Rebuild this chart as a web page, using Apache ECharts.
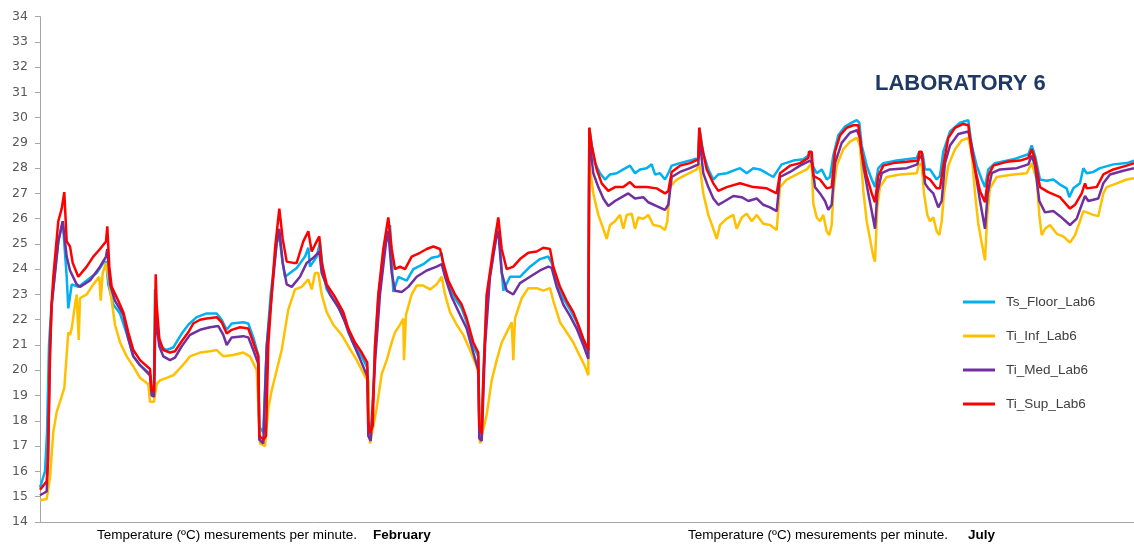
<!DOCTYPE html>
<html>
<head>
<meta charset="utf-8">
<script src="https://cdn.jsdelivr.net/npm/echarts@6/dist/echarts.min.js"></script>
<style>
html,body{margin:0;padding:0;background:#fff;}
#chart{width:1134px;height:544px;}
</style>
</head>
<body>
<div id="chart"></div>
<script>
// Series names
const seriesNames = ['Ts_Floor_Lab6', 'Ti_Inf_Lab6', 'Ti_Med_Lab6', 'Ti_Sup_Lab6'];
// Y axis range / tick step (ºC)
const yMin = 14, yMax = 34, yStep = 1;
// Measurement index range (one unit per sample position)
const tMin = 40, tMax = 1134;

// [measurement index, temperature ºC]
const floorData = [
[40,15.35],[45,16.0],[47,17.5],[49,21.0],[51,22.3],[54,23.5],[58.3,25.1],[62.7,25.9],[66.7,23.7],[68.3,22.45],[71.7,23.4],[78.3,23.3],[86.7,23.55],[96.7,23.85],[103.3,24.25],[106,24.3],[108.3,23.4],[113.3,22.6],[120,22.25],[128.3,21.25],[133.3,20.55],[140,20.2],[150,19.85],[151.7,19.0],[154,19.0],[155,23.2],[157,21.8],[160,20.95],[166.7,20.8],[173.3,20.9],[181.7,21.45],[188.3,21.8],[196.7,22.1],[206.7,22.25],[216.7,22.25],[221.7,22.0],[226.7,21.6],[231.7,21.85],[243.3,21.9],[248.3,21.85],[253.3,21.3],[258.3,20.6],[259.3,17.75],[263.3,17.55],[266.7,20.95],[270.7,23.0],[276.7,25.05],[279.3,25.3],[282.7,24.25],[285,23.7],[290,23.85],[296.7,24.05],[305,24.5],[308.3,24.85],[310,24.1],[316.7,24.5],[320,25.05],[323.3,23.85],[326.7,23.2],[335,22.7],[343.3,22.15],[348.3,21.5],[355,20.95],[361.7,20.55],[367.3,20.1],[369.3,17.8],[371.7,17.6],[375,20.9],[378.3,22.9],[383.3,24.6],[390,25.75],[393.3,23.1],[398.3,23.7],[406.7,23.55],[413.3,24.0],[423.3,24.2],[431.7,24.45],[438.3,24.5],[441.7,24.65],[443.3,24.1],[448.3,23.4],[455,22.85],[461.7,22.45],[466.7,21.9],[473.3,20.95],[478.3,20.55],[479.3,17.7],[481.7,17.6],[483.3,19.8],[486.7,22.9],[493.3,24.6],[498.3,25.75],[503.3,23.15],[510,23.7],[520,23.7],[530,24.1],[540,24.4],[548.3,24.5],[551.7,24.25],[556.7,23.5],[563.3,22.85],[570,22.4],[576.7,21.9],[583.3,21.2],[588.3,20.7],
[589.3,29.6],[591.7,28.9],[595,28.2],[600,27.8],[605,27.55],[610,27.75],[616.7,27.8],[623.3,27.95],[630,28.1],[635,27.8],[640,27.95],[646.7,28.0],[651.7,28.15],[655,27.75],[660,27.8],[665,27.55],[668.3,27.8],[671.7,28.1],[680,28.2],[690,28.3],[698.3,28.4],[699.3,29.6],[703.3,28.6],[708.3,27.95],[713.3,27.55],[718.3,27.75],[726.7,27.8],[733.3,27.9],[740,28.0],[746.7,27.8],[753.3,28.0],[760,27.95],[766.7,27.8],[773.3,27.65],[778.3,27.95],[781.7,28.15],[793.3,28.3],[803.3,28.35],[808.3,28.5],[810,28.65],[812.7,28.1],[816.7,27.8],[821.7,27.95],[826.7,27.55],[830,27.65],[833.3,28.5],[838.3,29.3],[845,29.65],[851.7,29.8],[856.7,29.9],[859.3,29.8],[861.7,28.9],[866.7,28.1],[871.7,27.55],[875,27.25],[878.3,28.0],[883.3,28.2],[896.7,28.3],[916.7,28.4],[919.3,28.65],[922.7,28.55],[925,27.95],[930,27.95],[936.7,27.55],[940,27.7],[943.3,28.65],[950,29.45],[960,29.8],[968.3,29.9],[971.7,28.9],[976.7,28.1],[981.7,27.55],[985,27.25],[988.3,27.95],[995,28.2],[1013.3,28.35],[1028.3,28.55],[1031.7,28.9],[1035,28.5],[1040,27.55],[1046.7,27.5],[1053.3,27.55],[1060,27.35],[1066.7,27.2],[1069.3,26.85],[1073.3,27.2],[1080,27.4],[1083.3,28.0],[1086.7,27.8],[1093.3,27.85],[1100,28.0],[1113.3,28.15],[1126.7,28.2],[1134,28.3]
];

const infData = [
[40,14.85],[46.7,14.9],[50,15.75],[53.3,17.55],[56.7,18.35],[60,18.75],[64.3,19.3],[68.3,21.5],[70,21.4],[71.7,21.65],[75,22.6],[76.7,23.0],[78.7,21.2],[80,22.85],[86.7,23.0],[93.3,23.4],[99.3,23.7],[100.7,22.75],[102.7,23.85],[106,24.25],[108.3,23.7],[111.7,22.75],[115,21.8],[120,21.1],[126.7,20.55],[133.3,20.15],[140,19.7],[148.3,19.45],[150,18.75],[154,18.75],[156.7,19.45],[160,19.6],[166.7,19.7],[173.3,19.8],[181.7,20.15],[190,20.55],[200,20.7],[210,20.75],[216.7,20.8],[223.3,20.55],[233.3,20.6],[243.3,20.7],[250,20.55],[256.7,20.0],[260,17.1],[265,17.0],[268.3,18.5],[271.7,19.2],[276.7,20.0],[281.7,20.8],[288.3,22.4],[295,23.2],[301.7,23.3],[308.3,23.6],[311.7,23.2],[315,23.85],[318.3,23.85],[321.7,23.0],[326.7,22.3],[333.3,21.8],[341.7,21.4],[348.3,20.95],[356.7,20.4],[365,19.75],[368.3,19.6],[370,17.1],[371.7,17.05],[376.7,18.5],[381.7,19.85],[386.7,20.4],[391.7,21.1],[395,21.5],[400,21.8],[403.3,22.05],[404,20.4],[406,22.2],[411.7,23.0],[416.7,23.35],[423.3,23.35],[430,23.2],[436.7,23.4],[441.7,23.7],[445,23.0],[450,22.3],[456.7,21.8],[463.3,21.4],[470,20.8],[476.7,20.15],[478.3,19.85],[480,17.1],[481.7,17.05],[486.7,18.25],[491.7,19.6],[496.7,20.4],[501.7,21.1],[506.7,21.5],[511.7,21.9],[513.3,20.4],[515,22.05],[521.7,22.85],[528.3,23.25],[536.7,23.25],[543.3,23.15],[550,23.25],[553.3,22.75],[560,21.9],[566.7,21.5],[573.3,21.1],[580,20.55],[585,20.15],[588.3,19.8],
[589.3,28.2],[593.3,27.0],[598.3,26.15],[603.3,25.6],[606.7,25.2],[610,25.75],[615,25.9],[620,26.15],[623.3,25.6],[626.7,26.15],[631.7,26.2],[635,25.6],[638.3,26.05],[643.3,26.0],[648.3,26.15],[653.3,25.75],[660,25.7],[665,25.55],[667.3,25.9],[670,27.25],[676.7,27.55],[686.7,27.75],[696.7,27.95],[699.3,28.2],[703.3,27.0],[708.3,26.15],[713.3,25.6],[716.7,25.2],[720,25.75],[726.7,26.0],[733.3,26.15],[736.7,25.6],[741.7,26.05],[746.7,26.2],[751.7,25.9],[756.7,26.15],[763.3,25.8],[770,25.75],[776.7,25.55],[780,27.25],[786.7,27.55],[796.7,27.75],[806.7,27.95],[811.7,28.2],[813.3,26.6],[816.7,26.05],[820,25.9],[823.3,26.15],[826.7,25.5],[829.3,25.35],[831.7,25.75],[833.3,27.0],[836.7,28.1],[843.3,28.75],[850,29.05],[856.7,29.2],[860,28.9],[863.3,27.1],[866.7,25.9],[870,25.2],[873.3,24.5],[875,24.3],[877.3,26.45],[880,27.25],[886.7,27.65],[900,27.75],[916.7,27.8],[919.3,28.2],[921.7,28.1],[924,27.0],[927.3,26.15],[930,25.9],[933.3,26.05],[936.7,25.5],[939.3,25.35],[941.7,25.9],[944,27.0],[948.3,28.1],[955,28.75],[961.7,29.1],[968.3,29.2],[971.7,28.6],[975,27.0],[978.3,25.8],[981.7,25.05],[985,24.35],[987.3,26.15],[990,27.2],[996.7,27.65],[1013.3,27.75],[1026.7,27.8],[1031.7,28.2],[1036.7,27.55],[1039.3,26.15],[1041.7,25.35],[1045,25.6],[1050,25.75],[1056.7,25.4],[1063.3,25.3],[1070,25.05],[1075,25.35],[1080,25.9],[1083.3,26.3],[1086.7,26.25],[1093.3,26.15],[1098.3,26.1],[1103.3,27.0],[1106.7,27.25],[1116.7,27.4],[1126.7,27.55],[1134,27.6]
];

const medData = [
[40,15.05],[46.7,15.2],[48,16.5],[50,20.95],[51.7,22.6],[58.3,25.1],[62.7,25.9],[66.7,24.5],[70,23.95],[76.7,23.4],[80,23.3],[90,23.55],[100,24.1],[106,24.5],[107.3,24.8],[110,23.4],[115,22.75],[123.3,22.2],[128.3,21.25],[133.3,20.55],[140,20.2],[150,19.8],[151.7,19.0],[154,18.95],[155.7,22.5],[157.5,21.5],[159.3,20.95],[163.3,20.55],[170,20.4],[175,20.5],[181.7,20.95],[190,21.4],[200,21.6],[210,21.7],[218.3,21.75],[223.3,21.4],[226.7,21.0],[231.7,21.3],[243.3,21.35],[248.3,21.3],[253.3,20.8],[258.3,20.25],[259.3,17.25],[263.3,17.1],[266.7,20.95],[271.7,23.0],[276.7,25.05],[279.3,25.6],[282.7,24.25],[286.7,23.4],[291.7,23.3],[300,23.7],[306.7,24.25],[313.3,24.45],[319.3,24.7],[321.7,23.85],[330,23.0],[338.3,22.5],[345,21.9],[351.7,21.2],[360,20.45],[367.3,19.75],[368.3,17.4],[370.7,17.2],[375,20.3],[380,23.0],[386,25.05],[388.3,25.5],[391.7,23.85],[395,23.15],[401.7,23.1],[408.3,23.3],[416.7,23.7],[426.7,23.95],[436.7,24.1],[441.7,24.2],[445,23.7],[451.7,22.9],[460,22.2],[466.7,21.65],[473.3,20.7],[478.3,20.0],[479.3,17.3],[481.7,17.2],[485,20.95],[490,23.7],[496,25.2],[498.3,25.5],[501.7,23.85],[506.7,23.15],[513.3,23.0],[520,23.45],[530,23.7],[540,23.95],[548.3,24.1],[551.7,24.05],[556.7,23.3],[563.3,22.6],[570,22.15],[576.7,21.65],[583.3,21.0],[588.3,20.45],
[589.3,29.2],[593.3,27.8],[598.3,27.25],[603.3,26.8],[608.3,26.5],[615,26.7],[621.7,26.85],[628.3,27.0],[635,26.8],[643.3,26.85],[648.3,26.65],[656.7,26.5],[665,26.35],[668.3,26.55],[671.7,27.65],[680,27.85],[690,28.0],[698.3,28.15],[699.3,29.25],[703.3,27.8],[708.3,27.25],[713.3,26.8],[718.3,26.55],[725,26.7],[733.3,26.9],[741.7,26.85],[748.3,26.7],[756.7,26.8],[763.3,26.55],[770,26.45],[776.7,26.3],[780,27.65],[790,27.85],[800,28.1],[810,28.3],[812,28.2],[815,27.25],[820,27.0],[825,26.7],[828.3,26.35],[831.7,26.55],[835,28.2],[841.7,29.0],[850,29.4],[857,29.5],[860,29.2],[863.3,28.1],[868.3,27.0],[871.7,26.3],[875,25.6],[877.3,27.0],[881.7,27.8],[890,27.95],[906.7,28.0],[917.3,28.15],[919.3,28.5],[922.7,28.35],[925,27.4],[928.3,27.2],[933.3,27.0],[938.3,26.45],[941.7,26.7],[945,28.2],[950,28.9],[958.3,29.35],[968.3,29.45],[971.7,28.9],[975,27.95],[980,26.7],[985,25.6],[987.7,27.0],[991.7,27.8],[1000,27.95],[1016.7,28.0],[1028.3,28.15],[1031.7,28.5],[1035,28.1],[1039.3,26.7],[1045,26.25],[1053.3,26.3],[1060,26.1],[1070,25.75],[1076.7,26.0],[1081.7,26.55],[1085,26.9],[1088.3,26.7],[1098.3,26.8],[1103.3,27.4],[1110,27.75],[1123.3,27.9],[1134,28.0]
];

const supData = [
[40,15.27],[46.7,15.6],[48,16.5],[50,20.5],[51.7,22.7],[53.3,23.7],[58.3,25.9],[61.7,26.4],[64.3,27.05],[66.7,25.1],[70,24.9],[72.7,24.25],[78.3,23.7],[86.7,24.1],[93.3,24.5],[100,24.8],[106,25.1],[107.3,25.7],[109.3,24.1],[111.7,23.3],[118.3,22.75],[123.3,22.3],[128.3,21.5],[133.3,20.8],[140,20.4],[150,20.05],[151.7,19.2],[154,19.15],[155.7,23.8],[156.7,22.6],[159.3,21.25],[163.3,20.8],[170,20.7],[175,20.75],[181.7,21.15],[188.3,21.5],[193.3,21.85],[200,22.0],[206.7,22.05],[216.7,22.1],[221.7,21.9],[226.7,21.45],[231.7,21.6],[240,21.7],[248.3,21.65],[253.3,21.1],[258.3,20.55],[259.3,17.4],[263.3,17.25],[266,17.4],[268.3,21.0],[271.7,23.0],[275,24.8],[279.3,26.4],[282.7,25.2],[286.7,24.3],[293.3,24.25],[296.7,24.25],[303.3,25.1],[308.3,25.5],[311.7,24.7],[316.7,25.1],[319.3,25.3],[321.7,24.25],[326.7,23.4],[335,22.9],[343.3,22.3],[348.3,21.65],[355,21.1],[361.7,20.7],[367.3,20.3],[368.3,18.0],[370,17.5],[372.7,17.8],[375,20.95],[378.3,23.0],[383.3,24.8],[388.3,26.05],[391.7,24.8],[395,24.0],[400,24.1],[405,24.0],[411.7,24.5],[420,24.65],[426.7,24.8],[433.3,24.9],[440,24.8],[443.3,24.25],[448.3,23.55],[455,23.0],[461.7,22.6],[466.7,22.05],[473.3,21.1],[478.3,20.7],[479.3,17.8],[481.7,17.5],[483.3,19.6],[486.7,23.0],[493.3,24.8],[498.3,26.05],[501.7,24.8],[506.7,24.0],[513.3,24.1],[520,24.4],[528.3,24.65],[536.7,24.7],[543.3,24.85],[550,24.8],[553.3,24.1],[560,23.3],[566.7,22.75],[573.3,22.3],[578.3,21.8],[583.3,21.25],[588.3,20.8],
[589.3,29.6],[591.7,28.9],[596.7,27.95],[601.7,27.4],[608.3,27.1],[615,27.25],[623.3,27.25],[630,27.45],[635,27.25],[646.7,27.25],[656.7,27.2],[665,27.0],[668.3,27.1],[671.7,27.85],[680,28.1],[690,28.2],[698.3,28.35],[699.3,29.6],[701.7,28.9],[706.7,27.95],[713.3,27.4],[718.3,27.1],[726.7,27.25],[740,27.4],[753.3,27.25],[766.7,27.2],[776.7,27.0],[780,27.8],[790,28.1],[800,28.2],[808.3,28.4],[809,28.65],[811.7,28.65],[813.3,27.7],[820,27.55],[826.7,27.2],[831.7,27.25],[835,28.65],[840,29.3],[846.7,29.6],[853.3,29.7],[858.3,29.7],[861.7,28.6],[866.7,27.7],[871.7,27.0],[875,26.65],[878.3,27.7],[883.3,28.1],[893.3,28.2],[906.7,28.25],[918.3,28.3],[919.3,28.65],[921.7,28.65],[924,27.7],[930,27.55],[936.7,27.2],[940,27.2],[943.3,28.1],[948.3,29.2],[955,29.6],[963.3,29.75],[968.3,29.7],[971.7,28.6],[976.7,27.7],[980,27.1],[985,26.65],[988.3,27.7],[993.3,28.1],[1006.7,28.25],[1020,28.3],[1028.3,28.4],[1031.7,28.75],[1035,28.35],[1040,27.25],[1048.3,27.05],[1060,26.85],[1070,26.4],[1075,26.55],[1081.7,27.0],[1085,27.4],[1086.7,27.2],[1096.7,27.25],[1103.3,27.75],[1113.3,27.95],[1126.7,28.1],[1134,28.2]
];

const seriesData = [floorData, infData, medData, supData];
const seriesColors = ['#00B0F0', '#FFC000', '#7030A0', '#FF0000'];

const chart = echarts.init(document.getElementById('chart'), null, {renderer: 'canvas'});
chart.setOption({
  animation: false,
  backgroundColor: '#ffffff',
  grid: {left: 40, right: 0, top: 16.6, bottom: 22.2, containLabel: false},
  xAxis: {
    type: 'value', min: tMin, max: tMax,
    axisLine: {show: true, onZero: false, lineStyle: {color: '#A6A6A6', width: 1}},
    axisTick: {show: false}, axisLabel: {show: false}, splitLine: {show: false}
  },
  yAxis: {
    type: 'value', min: yMin, max: yMax, interval: yStep,
    axisLine: {show: true, lineStyle: {color: '#A6A6A6', width: 1}},
    axisTick: {show: true, length: 5, lineStyle: {color: '#A6A6A6'}},
    axisLabel: {color: '#595959', fontFamily: 'DejaVu Sans', fontSize: 12.5, margin: 12},
    splitLine: {show: false}
  },
  legend: {
    data: seriesNames,
    orient: 'vertical',
    left: 958, top: 289,
    icon: 'rect',
    itemWidth: 32, itemHeight: 3, itemGap: 18,
    textStyle: {color: '#404040', fontFamily: 'Liberation Sans', fontSize: 13.5, lineHeight: 16, padding: [0,0,0,6]}
  },
  graphic: [
    {type: 'text', left: 875, top: 73, style: {text: 'LABORATORY 6', fill: '#1F3864', font: 'bold 22px "Liberation Sans"'}},
    {type: 'text', left: 97, top: 528, style: {text: 'Temperature (ºC) mesurements per minute.', fill: '#000', font: '13.5px "Liberation Sans"'}},
    {type: 'text', left: 373, top: 528, style: {text: 'February', fill: '#000', font: 'bold 13.5px "Liberation Sans"'}},
    {type: 'text', left: 688, top: 528, style: {text: 'Temperature (ºC) mesurements per minute.', fill: '#000', font: '13.5px "Liberation Sans"'}},
    {type: 'text', left: 968, top: 528, style: {text: 'July', fill: '#000', font: 'bold 13.5px "Liberation Sans"'}}
  ],
  series: seriesNames.map((name, i) => ({
    name: name,
    type: 'line',
    data: seriesData[i],
    symbol: 'none',
    color: seriesColors[i],
    lineStyle: {color: seriesColors[i], width: 2.5},
    itemStyle: {color: seriesColors[i]},
    clip: true
  }))
});
</script>
</body>
</html>
